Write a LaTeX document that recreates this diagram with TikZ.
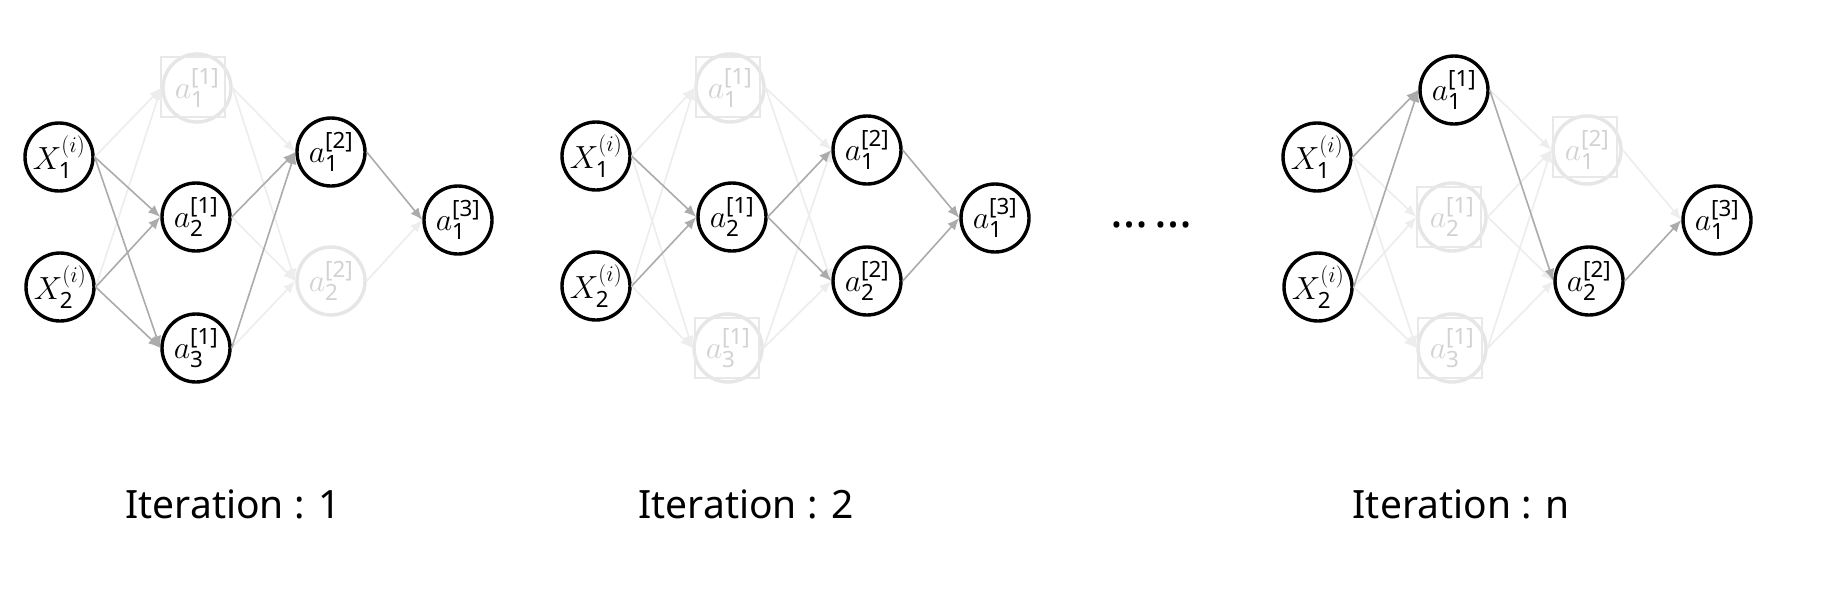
\RequirePackage{fix-cm}
\documentclass[tikz,border=0pt]{standalone}
\usepackage{amsmath}
\usepackage{fontspec}
\setsansfont{Noto Sans}
\usetikzlibrary{arrows.meta}
\definecolor{edgegray}{HTML}{ABABAB}
\definecolor{fadeedge}{HTML}{EDEDED}
\definecolor{fadecirc}{HTML}{E6E6E6}
\definecolor{fadetext}{HTML}{D2D2D2}
\definecolor{fadebox}{HTML}{E8E8E8}
\newcommand{\act}[2]{$a^{\textsf{[#2]}}_{\textsf{#1}}$}
\newcommand{\inp}[1]{$X^{(i)}_{\textsf{#1}}$}
\begin{document}
\begin{tikzpicture}[x=1pt,y=-1pt,
  neuron/.style={circle,draw=black,line width=3.4pt,minimum size=68pt,inner sep=0pt,fill=white,font=\fontsize{32}{34}\selectfont},
  ghost/.style={neuron,draw=fadecirc,text=fadetext},
  ghostbox/.style={rectangle,draw=fadebox,line width=1.5pt,minimum width=64pt,minimum height=60pt,inner sep=0pt},
  live/.style={draw=edgegray,line width=1.6pt,-{Latex[length=12pt,width=10pt]}},
  dim/.style={draw=fadeedge,line width=1.6pt,-{Latex[length=12pt,width=10pt]}},
  caption/.style={font=\sffamily\fontsize{39}{41}\selectfont,anchor=base}]
\useasboundingbox[fill=white] (0,0) rectangle (1838,600);

% ---------- Iteration 1 ----------
\node[neuron] (pX1) at (59,157) {\inp{1}};
\node[neuron] (pX2) at (60,287) {\inp{2}};
\node[ghost]  (pA11) at (197,88) {\act{1}{1}};
\node[ghostbox] (pA11b) at (193,87) {};
\node[neuron] (pA21) at (196,217) {\act{2}{1}};
\node[neuron] (pA31) at (196,348) {\act{3}{1}};
\node[neuron] (pA12) at (331,152) {\act{1}{2}};
\node[ghost]  (pA22) at (331,281) {\act{2}{2}};
\node[neuron] (pA13) at (458,220) {\act{1}{3}};

\foreach \s/\t in {pX1/pA11, pX2/pA11, pA11/pA12, pA11/pA22, pA21/pA22, pA31/pA22, pA22/pA13}
  \draw[dim] (\s.east) -- (\t.west);
\foreach \s/\t in {pX1/pA21, pX1/pA31, pX2/pA21, pX2/pA31, pA21/pA12, pA31/pA12, pA12/pA13}
  \draw[live] (\s.east) -- (\t.west);

% ---------- Iteration 2 ----------
\node[neuron] (qX1) at (596,156) {\inp{1}};
\node[neuron] (qX2) at (596,286) {\inp{2}};
\node[ghost]  (qA11) at (730,88) {\act{1}{1}};
\node[ghostbox] (qA11b) at (728,87) {};
\node[neuron] (qA21) at (732,217) {\act{2}{1}};
\node[ghost]  (qA31) at (728,348) {\act{3}{1}};
\node[ghostbox] (qA31b) at (727,348) {};
\node[neuron] (qA12) at (867,150) {\act{1}{2}};
\node[neuron] (qA22) at (867,281) {\act{2}{2}};
\node[neuron] (qA13) at (995,218) {\act{1}{3}};

\foreach \s/\t in {qX1/qA11, qX1/qA31, qX2/qA11, qX2/qA31, qA11/qA12, qA11/qA22, qA31/qA12, qA31/qA22}
  \draw[dim] (\s.east) -- (\t.west);
\foreach \s/\t in {qX1/qA21, qX2/qA21, qA21/qA12, qA21/qA22, qA12/qA13, qA22/qA13}
  \draw[live] (\s.east) -- (\t.west);

% ---------- dots ----------
\node[font=\sffamily\fontsize{48}{50}\selectfont,anchor=base,inner sep=0pt] (dots) at (1151,227) {…\hspace{6pt}…};

% ---------- Iteration n ----------
\node[neuron] (rX1) at (1317,157) {\inp{1}};
\node[neuron] (rX2) at (1318,287) {\inp{2}};
\node[neuron] (rA11) at (1454,90) {\act{1}{1}};
\node[ghost]  (rA21) at (1452,217) {\act{2}{1}};
\node[ghostbox] (rA21b) at (1449,217) {};
\node[ghost]  (rA31) at (1452,348) {\act{3}{1}};
\node[ghostbox] (rA31b) at (1450,348) {};
\node[ghost]  (rA12) at (1587,150) {\act{1}{2}};
\node[ghostbox] (rA12b) at (1585,147) {};
\node[neuron] (rA22) at (1589,281) {\act{2}{2}};
\node[neuron] (rA13) at (1717,220) {\act{1}{3}};

\foreach \s/\t in {rX1/rA21, rX1/rA31, rX2/rA21, rX2/rA31, rA11/rA12, rA21/rA12, rA21/rA22, rA31/rA12, rA31/rA22, rA12/rA13}
  \draw[dim] (\s.east) -- (\t.west);
\foreach \s/\t in {rX1/rA11, rX2/rA11, rA11/rA22, rA22/rA13}
  \draw[live] (\s.east) -- (\t.west);

% ---------- captions ----------
\node[caption] (cap1) at (233,518) {Iteration : 1};
\node[caption] (cap2) at (746,518) {Iteration : 2};
\node[caption] (capn) at (1461,518) {Iteration : n};
\end{tikzpicture}
\end{document}
